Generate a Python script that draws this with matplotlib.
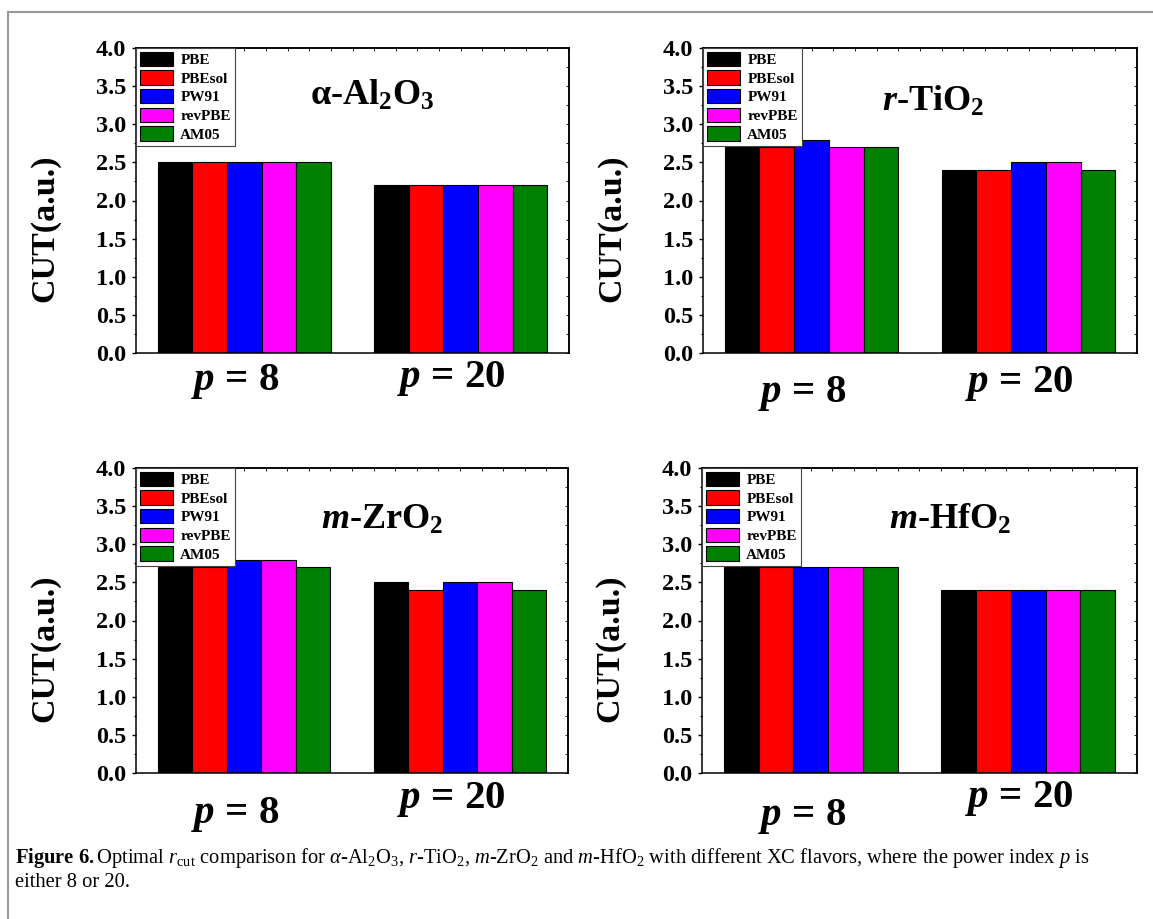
#!/usr/bin/env python3
"""Optimal r_cut for four oxides with different XC flavours (p = 8 / p = 20)."""

import matplotlib
matplotlib.use("Agg")
import matplotlib.pyplot as plt
import numpy as np
from matplotlib.lines import Line2D
from matplotlib.ticker import AutoMinorLocator, MultipleLocator
from matplotlib.transforms import offset_copy

plt.rcParams["font.family"] = ["Liberation Serif", "DejaVu Serif"]
plt.rcParams["mathtext.fontset"] = "custom"
plt.rcParams["mathtext.rm"] = "Liberation Serif"
plt.rcParams["mathtext.it"] = "Liberation Serif:italic"
plt.rcParams["mathtext.bf"] = "Liberation Serif:bold"
try:
    plt.rcParams["mathtext.bfit"] = "Liberation Serif:italic:bold"
except KeyError:
    pass

# ---- data -------------------------------------------------------------
XC = ["PBE", "PBEsol", "PW91", "revPBE", "AM05"]
COLORS = ["#000000", "#ff0000", "#0000ff", "#ff00ff", "#008000"]
P_LABELS = [r"$\mathbfit{p}$ = 8", r"$\mathbfit{p}$ = 20"]

AL2O3_P8 = [2.5, 2.5, 2.5, 2.5, 2.5]
AL2O3_P20 = [2.2, 2.2, 2.2, 2.2, 2.2]
TIO2_P8 = [2.7, 2.7, 2.8, 2.7, 2.7]
TIO2_P20 = [2.4, 2.4, 2.5, 2.5, 2.4]
ZRO2_P8 = [2.7, 2.7, 2.8, 2.8, 2.7]
ZRO2_P20 = [2.5, 2.4, 2.5, 2.5, 2.4]
HFO2_P8 = [2.7, 2.7, 2.7, 2.7, 2.7]
HFO2_P20 = [2.4, 2.4, 2.4, 2.4, 2.4]

TITLES = [
    r"α-Al$_\mathbf{2}$O$_\mathbf{3}$",
    r"$\mathbfit{r}$-TiO$_\mathbf{2}$",
    r"$\mathbfit{m}$-ZrO$_\mathbf{2}$",
    r"$\mathbfit{m}$-HfO$_\mathbf{2}$",
]
PANEL_DATA = [
    (AL2O3_P8, AL2O3_P20),
    (TIO2_P8, TIO2_P20),
    (ZRO2_P8, ZRO2_P20),
    (HFO2_P8, HFO2_P20),
]

# ---- layout (pixel based, 1153 x 919) ---------------------------------
W, H = 1153, 919
PANEL_BOX = [  # left, top, right, bottom in px
    (136, 48, 569, 353),
    (703, 48, 1137, 353),
    (136, 468, 568, 773),
    (702, 468, 1137, 773),
]
TITLE_POS = [(0.545, 0.815), (0.53, 0.795), (0.57, 0.80), (0.57, 0.80)]
LABEL_DROP_PX = [(37, 34), (49, 39), (50, 35), (52, 34)]
LABEL_SHIFT_PX = -9

fig = plt.figure(figsize=(W / 100, H / 100), dpi=100)

x = np.arange(len(P_LABELS))
width = 0.16

for k, (box, title, (v8, v20)) in enumerate(zip(PANEL_BOX, TITLES, PANEL_DATA)):
    l, t, r, b = box
    ax = fig.add_axes([l / W, 1 - b / H, (r - l) / W, (b - t) / H])

    for i, (name, col) in enumerate(zip(XC, COLORS)):
        ax.bar(x + (i - 2) * width, [v8[i], v20[i]], width, color=col,
               edgecolor="black", linewidth=0.8, label=name)

    ax.set_xlim(-0.5, 1.5)
    ax.set_ylim(0, 4.0)
    ax.yaxis.set_major_locator(MultipleLocator(0.5))
    ax.yaxis.set_minor_locator(AutoMinorLocator(2))
    ax.yaxis.set_major_formatter(plt.FormatStrFormatter("%.1f"))
    ax.set_xticks(x)
    ax.set_xticklabels(["", ""])
    ax.tick_params(axis="x", length=0)
    ax.tick_params(axis="y", which="major", direction="out", length=3,
                   width=1, labelsize=17.5, pad=4)
    ax.tick_params(axis="y", which="minor", direction="out", length=1.8, width=0.8)
    for lab in ax.get_yticklabels():
        lab.set_fontweight("bold")
    for sp in ax.spines.values():
        sp.set_linewidth(1.1)

    # mirrored ticks on top / right, pointing inwards
    top = ax.secondary_xaxis("top")
    top.xaxis.set_major_locator(MultipleLocator(0.1))
    top.tick_params(direction="in", length=2.5, width=0.6, labeltop=False)
    top.spines["top"].set_linewidth(1.1)
    right = ax.secondary_yaxis("right")
    right.yaxis.set_major_locator(MultipleLocator(0.25))
    right.tick_params(direction="in", length=2, width=0.6, labelright=False)
    right.spines["right"].set_linewidth(1.1)

    ax.set_ylabel("CUT(a.u.)", fontsize=24.5, fontweight="bold")
    ax.yaxis.set_label_coords(-0.175, 0.41)

    for xi, lab, drop in zip(x, P_LABELS, LABEL_DROP_PX[k]):
        tr = offset_copy(ax.get_xaxis_transform(), fig=fig, x=LABEL_SHIFT_PX * 0.72,
                         y=-drop * 0.72, units="points")
        ax.text(xi, 0, lab, transform=tr, ha="center", va="baseline",
                fontsize=29.5, fontweight="bold")

    tx, ty = TITLE_POS[k]
    ax.text(tx, ty, title, transform=ax.transAxes, ha="center", va="baseline",
            fontsize=26, fontweight="bold")

    leg = ax.legend(loc="upper left", bbox_to_anchor=(0, 1), borderaxespad=0,
                    prop={"weight": "bold", "size": 11}, handlelength=2.15,
                    handleheight=1.05, labelspacing=0.22, borderpad=0.25,
                    handletextpad=0.5, fancybox=False, edgecolor="#444444",
                    framealpha=1)
    leg.get_frame().set_linewidth(0.8)

# page frame (top and left rule)
fig.add_artist(Line2D([8 / W, 1], [1 - 12 / H, 1 - 12 / H], transform=fig.transFigure,
                      color="#999999", linewidth=1.5))
fig.add_artist(Line2D([8 / W, 8 / W], [0, 1 - 12 / H], transform=fig.transFigure,
                      color="#999999", linewidth=1.5))

caption1 = (r"$\mathbf{Figure\ 6.}$Optimal $r_{\rm cut}$ comparison for "
            r"$\alpha$-Al$_2$O$_3$, $r$-TiO$_2$, $m$-ZrO$_2$ and $m$-HfO$_2$ "
            r"with different XC flavors, where the power index $p$ is")
fig.text(15 / W, 1 - 863 / H, caption1, fontsize=14.8, va="baseline")
fig.text(15 / W, 1 - 887 / H, "either 8 or 20.", fontsize=14.8, va="baseline")

fig.savefig("out.png", dpi=100)
